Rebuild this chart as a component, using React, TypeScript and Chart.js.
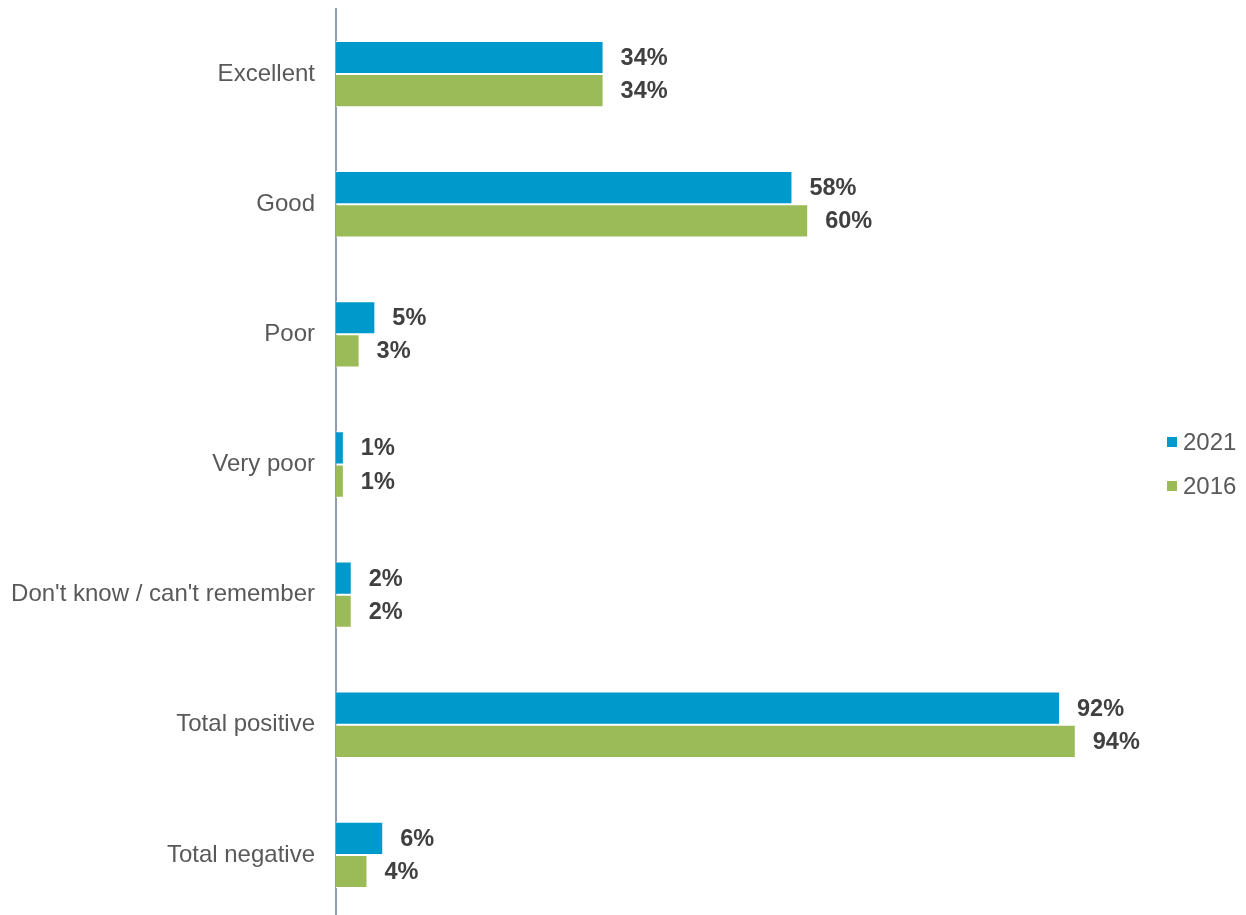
import React, { useEffect, useRef } from "react";
import { Chart, registerables } from "chart.js";

Chart.register(...registerables);

const categories = [
  "Excellent",
  "Good",
  "Poor",
  "Very poor",
  "Don't know / can't remember",
  "Total positive",
  "Total negative",
];
const series2021 = [34, 58, 5, 1, 2, 92, 6];
const series2016 = [34, 60, 3, 1, 2, 94, 4];
const seriesNames = ["2021", "2016"];
const seriesColors = ["#0099CC", "#9BBB59"];

const FONT = "'Liberation Sans', Arial, Helvetica, sans-serif";
const LABEL_SIZE = 23.5;
const AXIS_SIZE = 24;

// Percentage labels just past the end of each bar
const valueLabels = {
  id: "valueLabels",
  afterDatasetsDraw(chart: any) {
    const ctx = chart.ctx;
    ctx.save();
    ctx.font = `bold ${LABEL_SIZE}px ${FONT}`;
    ctx.fillStyle = "#404040";
    ctx.textAlign = "left";
    ctx.textBaseline = "middle";
    chart.data.datasets.forEach((ds: any, i: number) => {
      const meta = chart.getDatasetMeta(i);
      meta.data.forEach((bar: any, j: number) => {
        ctx.fillText(`${ds.data[j]}%`, bar.x + 17, bar.y + 1);
      });
    });
    ctx.restore();
  },
};

// Legend stacked on the right, square markers
const sideLegend = {
  id: "sideLegend",
  afterDraw(chart: any) {
    const ctx = chart.ctx;
    ctx.save();
    ctx.font = `${AXIS_SIZE}px ${FONT}`;
    ctx.textAlign = "left";
    ctx.textBaseline = "middle";
    const x = 1167;
    const y0 = 442;
    const step = 44;
    seriesNames.forEach((name, i) => {
      const y = y0 + i * step;
      ctx.fillStyle = seriesColors[i];
      ctx.fillRect(x, y - 5, 10, 10);
      ctx.fillStyle = "#595959";
      ctx.fillText(name, x + 16, y + 1);
    });
    ctx.restore();
  },
};

export default function App() {
  const canvasRef = useRef<HTMLCanvasElement | null>(null);

  useEffect(() => {
    if (!canvasRef.current) return;
    const chart = new Chart(canvasRef.current, {
      type: "bar",
      data: {
        labels: categories,
        datasets: [
          {
            label: seriesNames[0],
            data: series2021,
            backgroundColor: seriesColors[0],
            borderColor: "#ffffff",
            borderWidth: 1,
          },
          {
            label: seriesNames[1],
            data: series2016,
            backgroundColor: seriesColors[1],
            borderColor: "#ffffff",
            borderWidth: 1,
          },
        ],
      },
      options: {
        indexAxis: "y",
        animation: false,
        responsive: false,
        maintainAspectRatio: false,
        datasets: {
          bar: { categoryPercentage: 0.51, barPercentage: 1 },
        },
        layout: { padding: { top: 9, right: 123, bottom: 0, left: 0 } },
        plugins: {
          legend: { display: false },
          tooltip: { enabled: false },
        },
        scales: {
          x: { display: false, min: 0, max: 100 },
          y: {
            afterFit(scale: any) {
              scale.width = 336;
              scale.paddingTop = 0;
              scale.paddingBottom = 0;
            },
            grid: { display: false, drawTicks: false },
            border: { display: true, color: "#8C9DB5", width: 2 },
            ticks: {
              padding: 21,
              color: "#595959",
              font: { family: FONT, size: AXIS_SIZE },
            },
          },
        },
      },
      plugins: [valueLabels, sideLegend],
    });
    return () => chart.destroy();
  }, []);

  return (
    <div style={{ position: "fixed", left: 0, top: 0, width: 1246, height: 920, background: "#fff" }}>
      <canvas ref={canvasRef} width={1246} height={920} />
    </div>
  );
}
